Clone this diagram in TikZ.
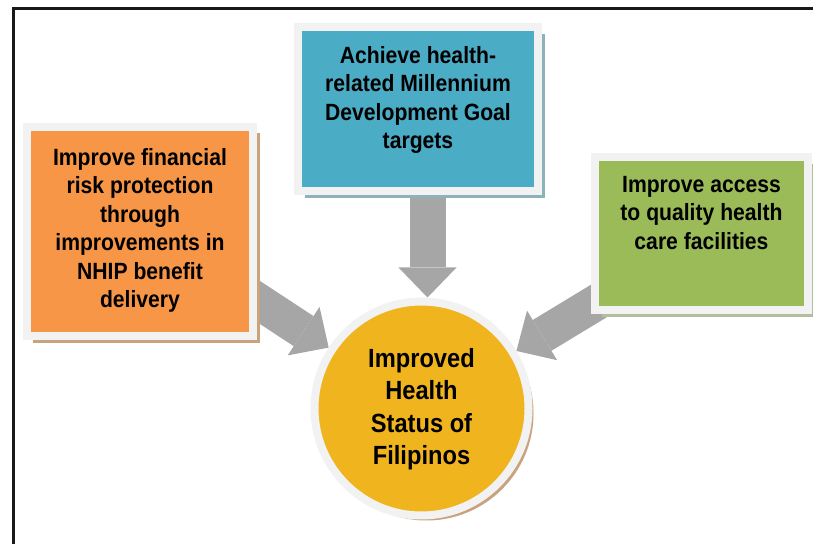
\documentclass[tikz,border=0pt]{standalone}
\usepackage{fontspec}
\setmainfont{Liberation Sans}[FakeStretch=0.9]
\usetikzlibrary{arrows.meta,shadows,backgrounds,calc}
\definecolor{orangeF}{HTML}{F79646}
\definecolor{blueF}{HTML}{4BACC6}
\definecolor{greenF}{HTML}{9BBB59}
\definecolor{yellowF}{HTML}{F0B41F}
\definecolor{frameG}{HTML}{F2F2F2}
\definecolor{arrowG}{HTML}{A6A6A6}
\definecolor{shBrown}{HTML}{C9A27E}
\definecolor{shBlue}{HTML}{8EB2BA}
\definecolor{shGreen}{HTML}{B3BDA0}
\begin{document}
\begin{tikzpicture}[x=1bp,y=-1bp,
  goalbox/.style={rectangle, draw=frameG, line width=8bp, inner sep=0pt},
  boxtxt/.style={align=center, inner sep=0pt, anchor=north, text=black,
    font=\fontsize{23.5bp}{28.5bp}\selectfont\bfseries},
  circtxt/.style={align=center, inner sep=0pt, anchor=north, text=black,
    font=\fontsize{26.3bp}{32.5bp}\selectfont\bfseries},
  bigarrow/.style={draw=arrowG, line width=36bp,
    -{Triangle[length=30bp 0 0, width=58bp 0 0, line width=0pt 0 0]}}
]
\useasboundingbox (0,0) rectangle (813,544);
% frame
\draw[line width=2.5bp, black!90] (13.5,560) -- (13.5,8.5) -- (830,8.5);

% boxes
\node[goalbox, fill=orangeF, minimum width=226bp, minimum height=209bp,
  drop shadow={shadow xshift=6.5bp, shadow yshift=-6.5bp, fill=shBrown, opacity=1}]
  (obox) at (140,231.5) {};
\node[goalbox, fill=blueF, minimum width=240bp, minimum height=164bp,
  drop shadow={shadow xshift=7bp, shadow yshift=-7bp, fill=shBlue, opacity=1}]
  (bbox) at (418,109) {};
\node[goalbox, fill=greenF, minimum width=213bp, minimum height=153bp,
  drop shadow={shadow xshift=7bp, shadow yshift=-7bp, fill=shGreen, opacity=1}]
  (gbox) at (701.5,233.5) {};
\node[circle, draw=frameG, line width=8bp, fill=yellowF, minimum size=214bp, inner sep=0pt,
  drop shadow={shadow xshift=5bp, shadow yshift=-5bp, fill=shBrown, opacity=1}]
  (circ) at (421.5,408.5) {};

% texts
\node[boxtxt] (otxt) at ([yshift=-25bp]obox.north)
  {Improve financial\\risk protection\\through\\improvements in\\NHIP benefit\\delivery};
\node[boxtxt] (btxt) at ([yshift=-23bp]bbox.north)
  {Achieve health-\\related Millennium\\Development Goal\\targets};
\node[boxtxt] (gtxt) at ([yshift=-23bp]gbox.north)
  {Improve access\\to quality health\\care facilities};
\node[circtxt] (ctxt) at (421.5,348)
  {Improved\\Health\\Status of\\Filipinos};

% arrows
\begin{scope}[on background layer]
  \coordinate (ls) at (244,292);
  \coordinate (rs) at (612,293);
  \coordinate (ts) at (427.5,185);
  \draw[bigarrow] (ls) -- (circ);
  \draw[bigarrow] (rs) -- (circ);
  \draw[bigarrow] (ts) -- (ts |- circ.north);
\end{scope}
\end{tikzpicture}
\end{document}
